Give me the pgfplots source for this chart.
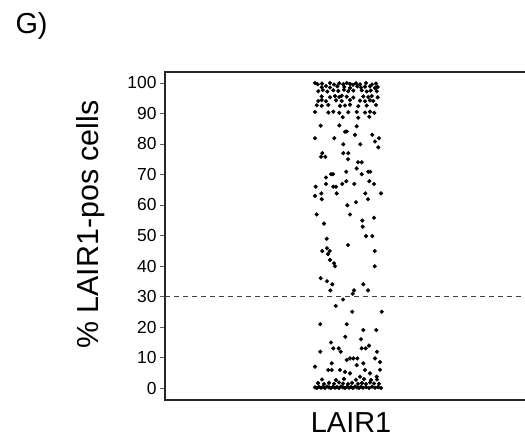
\documentclass[border=0pt]{standalone}
\usepackage{pgfplots}
\pgfplotsset{compat=1.18}
\usepackage{fontspec}
\setmainfont{Liberation Sans}
\begin{document}
\begin{tikzpicture}
\useasboundingbox (0bp,0bp) rectangle (525bp,442bp);
\node[font=\fontsize{29}{32}\selectfont, anchor=west] at (12bp,416bp) {G)};
\begin{axis}[
 at={(165bp,42bp)}, anchor=south west,
 scale only axis, width=362bp, height=328bp,
 xmin=165, xmax=527, ymin=-3.93, ymax=103.6,
 xtick=\empty,
 ytick={0,10,...,100},
 tick align=outside, tick pos=left,
 major tick length=5bp,
 every tick/.style={black!65, line width=0.9bp},
 yticklabel style={font=\fontsize{17.5}{20}\selectfont, black},
 /pgf/number format/assume math mode=true,
 axis line style={line width=1.3bp, black!85},
 ylabel={\% LAIR1-pos cells},
 ylabel style={font=\fontsize{30.5}{34}\selectfont, at={(axis description cs:-0.205,0.535)}, anchor=center},
 xlabel={LAIR1},
 xlabel style={font=\fontsize{29}{32}\selectfont, at={(axis description cs:0.514,-0.07)}, anchor=center},
 clip=false,
]
\addplot[black!75, line width=1.2bp, dash pattern=on 5bp off 4bp] coordinates {(165,30) (527,30)};
\addplot[only marks, mark=*, mark size=1.9bp, black] coordinates {
(315,100) (317.7,99.6) (322,99.8) (330,100) (334,99.5) (339.3,99.9) (343.3,99.6) (346.7,100) (350,99.7) (353,99.4) (356,99.9) (360,99.6) (366,100) (372,99.5) (376,99.8)
(321.7,98.6) (326,99) (330,98.5) (337.3,98.9) (344.3,98.7) (350,98.4) (357.3,98.9) (361,98.5) (365,98.8) (370,98.9) (375,98.4) (377.7,98.7)
(318.3,97.3) (322.7,97.7) (327.3,97.2) (333.3,97.6) (338.3,97.4) (344,97.8) (348.3,97.3) (353.3,97.5) (361.7,97.6) (366.7,97.2) (370.7,97.5) (376.7,97.3)
(321.7,95.6) (330,95.3) (335,95.7) (339.3,95.4) (341.7,95.8) (346.7,95.5) (353.3,95.2) (363.3,95.6) (368.3,95.4) (371.7,95.7) (377.7,95.3)
(318.3,94.1) (321.7,94.4) (326,94) (336,94.3) (341.7,94.1) (350,94.4) (360,94.2) (365,94) (370,94.3) (373.3,94.1)
(316.7,92.7) (321.7,92.5) (328.3,92.8) (340,92.5) (345,92.6) (350,92.9) (358.3,92.4) (366.7,92.6) (376,92.8)
(315,90.5) (328.3,90.3) (333.3,90.6) (339.3,90.2) (348.3,90.4) (356.7,90.5) (365,90.3) (370,90.6) (374.3,90.2)
(342.7,88.8) (358.3,88.6) (369.3,88.9)
(320.7,86.0) (339.3,86.1) (356.7,85.8)
(345,84) (346.7,84.1) (355,83) (372.3,83) (315,81.9) (334.3,81.9) (379,81.9) (375,80.8) (343.3,79.9) (360.3,79.9) (378.3,78.9)
(322.3,77) (343.3,77) (348.3,77) (321,75.8) (325.3,75.8) (348,75) (358,74) (361.7,74) (356.7,72) (346.3,70.9) (368.3,70.9) (370.3,70.9)
(331,70.1) (333,70.1) (361.7,70.1) (326,69)
(315.7,66.0) (326,66.9) (333.3,66.0) (336,66.0) (342.3,66.9) (346.3,67.8) (354.3,66.9) (369.3,67.8) (374,66.9)
(315,63.0) (321.3,63.8) (321.7,61.9) (336.7,63.8) (365.3,63.8) (368,61.9) (381,63.8) (347.3,59.9) (356,60.9)
(316.7,56.9) (350,56.9) (374,55.8) (324,53.9) (362.3,54.9) (362.7,52.9) (366,49.8) (372.3,49.8) (326.7,48.9) (348,46.9)
(327,45.8) (322.3,44.9) (329.7,44.9) (328,43.9) (374.7,44.9) (330,42.0) (334,40.9) (335,39.9) (374.7,39.9)
(320.7,36.0) (327,35.0) (332.3,34.0) (363.3,34.0) (330.3,32.0) (354,32.0) (352.7,30.9) (368,32.0) (343,29.0) (335.7,26.9)
(352.3,25) (381.7,25) (320.3,20.9) (346.7,20.9) (363.3,19) (376.3,19) (345.3,16.8) (361,16) (331,14.9) (333.3,13) (338.7,13) (340.7,11.9) (369,13.9) (361.7,13) (365.7,13) (320.3,11.9) (377,11.9)
(315,7) (328.3,5.9) (331.7,5.9) (340,5.9) (346.7,9.2) (350,9.7) (353.3,9.7) (357.3,9.7) (356.7,7.5) (363.3,8.1) (365,5.9) (375,9.7) (345,5.3) (370,4.8) (376.7,3.7) (360,3.7) (350,4.8) (331.7,8.1) (380,8.5) (380,6)
(315,0.2) (317,0) (319,0.4) (321,0.1) (323,0.3) (325,0) (327,0.5) (329,0.2) (331,0) (333,0.4) (335,0.1) (337,0.3) (339,0) (341,0.5) (343,0.2) (345,0) (347,0.4) (349,0.1) (351,0.3) (353,0) (355,0.5) (357,0.2) (359,0) (361,0.4) (363,0.1) (366,0.3) (369,0) (372,0.4) (375,0.1) (378,0.3) (381,0)
(318,1.6) (324,1.3) (329,1.7) (334,1.4) (339,1.8) (343,1.5) (348,1.3) (352,1.7) (358,1.4) (362,1.6) (366,1.3) (370,1.8) (374,1.5) (379,1.4)
(322,2.8) (336,2.6) (344,3.0) (356,2.7) (364,2.9) (371,2.6) (377,2.8)
};
\end{axis}
\end{tikzpicture}
\end{document}
